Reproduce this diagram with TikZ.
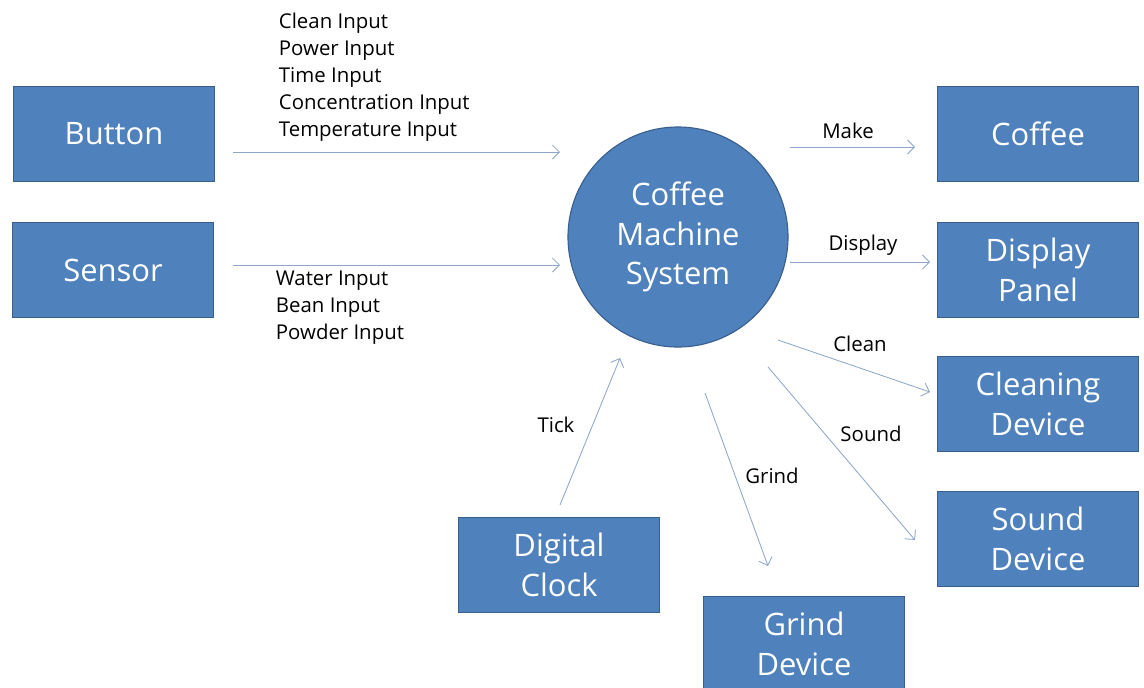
\documentclass[tikz,border=0pt]{standalone}
\usepackage{fontspec}
\setmainfont{Open Sans}
\usetikzlibrary{arrows.meta,positioning}
\definecolor{boxblue}{HTML}{4F81BD}
\definecolor{boxedge}{HTML}{3A5F8C}
\definecolor{flowline}{HTML}{8EA6C9}

\begin{document}
\begin{tikzpicture}[x=0.025cm, y=-0.025cm,
    block/.style={draw=boxedge, fill=boxblue, line width=0.8pt, text=white,
        minimum width=5.025cm, minimum height=2.375cm, align=center,
        font=\fontsize{22}{28}\selectfont},
    proc/.style={circle, draw=boxedge, fill=boxblue, line width=0.8pt, text=white,
        minimum size=5.5cm, align=center, font=\fontsize{22}{28}\selectfont},
    flow/.style={draw=flowline, line width=0.6pt, -{Straight Barb[length=5pt,width=10pt]}},
    lbl/.style={font=\fontsize{14.5}{19.2}\selectfont, align=left}]
    \useasboundingbox (0,0) rectangle (1144,687);

    % process in the middle
    \node[proc] (sys) at (678,237) {Coffee\\Machine\\System};

    % external entities
    \node[block] (button) at (114,134) {Button};
    \node[block] (sensor) at (113,270) {Sensor};
    \node[block] (coffee) at (1038,134) {Coffee};
    \node[block] (display) at (1038,270) {Display\\Panel};
    \node[block] (cleaning) at (1038,404) {Cleaning\\Device};
    \node[block] (sound) at (1038,539) {Sound\\Device};
    \node[block] (clock) at (559,565) {Digital\\Clock};
    \node[block] (grind) at (804,644) {Grind\\Device};

    % arrow ends (the arrows stop short of the shapes)
    \foreach \name/\x/\y in {btnout/233/152, btnin/560/152, senout/233/265, senin/560/265,
        makeout/790/147, makein/915/147, dispout/790/262, dispin/930/262,
        cleanout/778/340, cleanin/930/392, soundout/768/367, soundin/915/540,
        grindout/705/393, grindin/768/566, tickout/560/505, tickin/620/358} {
        \coordinate (\name) at (\x,\y);
    }

    % inputs
    \draw[flow] (btnout) -- (btnin);
    \draw[flow] (senout) -- (senin);
    \draw[flow] (tickout) -- (tickin);

    % outputs
    \draw[flow] (makeout) -- (makein);
    \draw[flow] (dispout) -- (dispin);
    \draw[flow] (cleanout) -- (cleanin);
    \draw[flow] (soundout) -- (soundin);
    \draw[flow] (grindout) -- (grindin);

    % labels
    \node[lbl, anchor=west] (btnlbl) at (274,77) {Clean Input\\Power Input\\Time Input\\Concentration Input\\Temperature Input};
    \node[lbl, anchor=west] (senlbl) at (271,308) {Water Input\\Bean Input\\Powder Input};
    \node[lbl] (makelbl) at (848,131) {Make};
    \node[lbl] (displbl) at (863,245) {Display};
    \node[lbl] (cleanlbl) at (860,344) {Clean};
    \node[lbl] (soundlbl) at (871,434) {Sound};
    \node[lbl] (grindlbl) at (772,476) {Grind};
    \node[lbl] (ticklbl) at (556,425) {Tick};
\end{tikzpicture}
\end{document}
